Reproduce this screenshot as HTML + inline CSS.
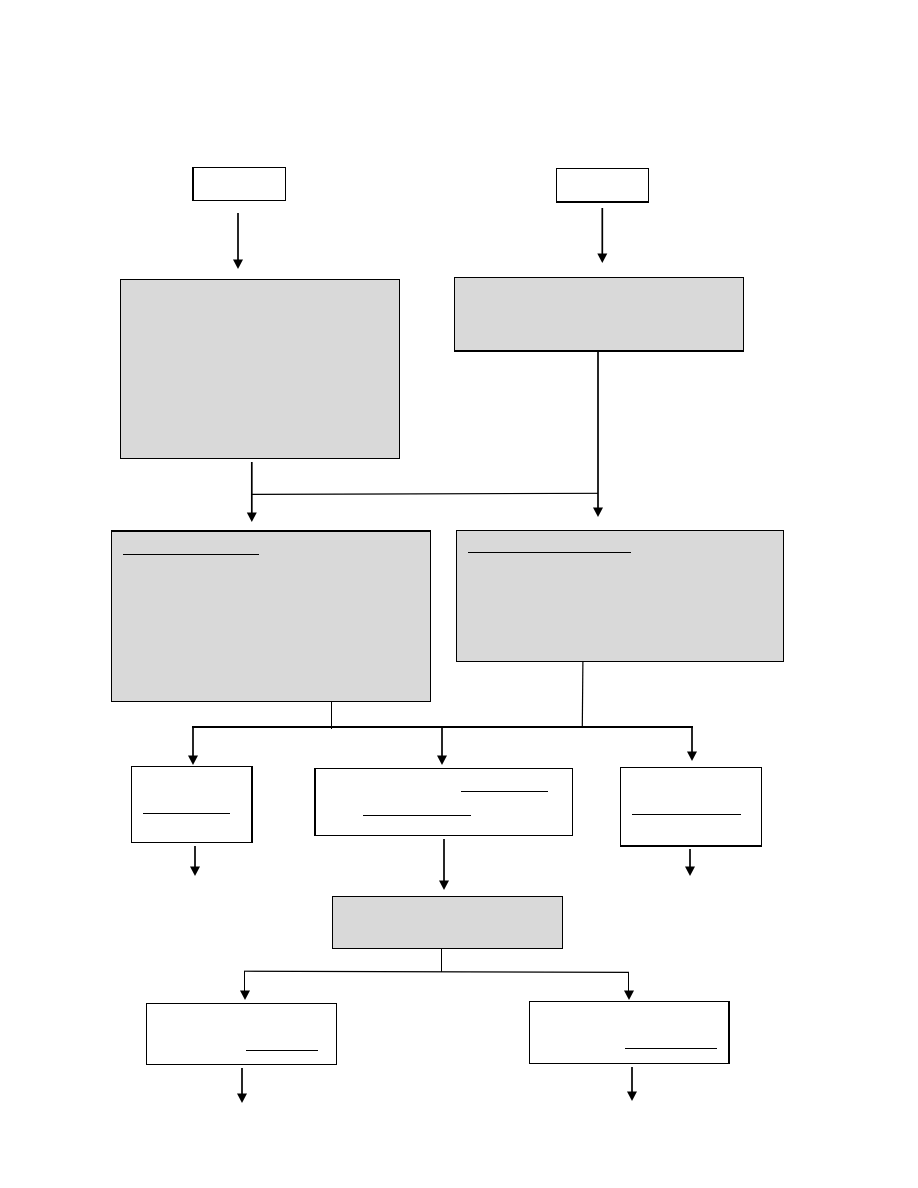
<!DOCTYPE html>
<html>
<head>
<meta charset="utf-8">
<style>
html,body{margin:0;padding:0;background:#fff;width:918px;height:1188px;overflow:hidden}
svg{display:block}
</style>
</head>
<body>
<svg width="918" height="1188" viewBox="0 0 918 1188" xmlns="http://www.w3.org/2000/svg">
<defs>
<polygon id="h" points="-5,-9.5 5,-9.5 0,0" fill="#000"/>
</defs>
<rect width="918" height="1188" fill="#fff"/>
<g stroke="#000" stroke-width="1.2" fill="#fff" shape-rendering="crispEdges">
<rect x="193.5" y="167.5" width="92" height="33"/>
<rect x="556.5" y="168.5" width="92" height="34"/>
<rect x="120.5" y="279.5" width="279" height="179" fill="#d9d9d9"/>
<rect x="454.5" y="277.5" width="289" height="74" fill="#d9d9d9"/>
<rect x="111.5" y="531.5" width="319" height="170" fill="#d9d9d9"/>
<rect x="456.5" y="530.5" width="327" height="131" fill="#d9d9d9"/>
<rect x="131.5" y="766.5" width="121" height="76"/>
<rect x="314.5" y="768.5" width="258" height="67"/>
<rect x="620.5" y="767.5" width="141" height="79"/>
<rect x="332.5" y="896.5" width="230" height="52" fill="#d9d9d9"/>
<rect x="146.5" y="1003.5" width="190" height="61"/>
<rect x="529.5" y="1001.5" width="200" height="62"/>
</g>
<g stroke="#000" stroke-width="2" fill="none" shape-rendering="crispEdges">
<line x1="193" y1="167" x2="193" y2="201"/>
<line x1="454" y1="351" x2="744" y2="351"/>
<line x1="111" y1="531" x2="431" y2="531"/>
<line x1="252" y1="767" x2="252" y2="843"/>
<line x1="315" y1="768" x2="315" y2="836"/>
<line x1="620" y1="846" x2="762" y2="846"/>
<line x1="556" y1="202" x2="649" y2="202"/>
<line x1="729" y1="1001" x2="729" y2="1064"/>
<line x1="192" y1="727" x2="693" y2="727"/>
</g>
<g stroke="#000" stroke-width="1.7" fill="none">
<line x1="238" y1="213" x2="238" y2="262"/>
<line x1="602.3" y1="208" x2="602.3" y2="256"/>
<line x1="598" y1="352" x2="598" y2="510"/>
<line x1="251.8" y1="462" x2="251.8" y2="515"/>
<line x1="193" y1="727" x2="193" y2="758"/>
<line x1="442" y1="727" x2="442" y2="758"/>
<line x1="692" y1="727" x2="692" y2="754"/>
<line x1="195" y1="846" x2="195" y2="869"/>
<line x1="690" y1="849" x2="690" y2="869"/>
<line x1="444" y1="839" x2="444" y2="884"/>
<line x1="242" y1="1068" x2="242" y2="1096"/>
<line x1="632" y1="1067" x2="632" y2="1094"/>
</g>
<g stroke="#000" stroke-width="1.2" fill="none">
<line x1="252" y1="494.4" x2="598" y2="493.3"/>
<line x1="582.9" y1="661" x2="582.3" y2="727"/>
<line x1="244" y1="971.2" x2="629" y2="972.4"/>
</g>
<g stroke="#000" stroke-width="1.2" fill="none" shape-rendering="crispEdges">
<line x1="331.5" y1="701" x2="331.5" y2="729"/>
<line x1="441.5" y1="948" x2="441.5" y2="972"/>
<line x1="244.5" y1="971" x2="244.5" y2="993"/>
<line x1="628.5" y1="972" x2="628.5" y2="993"/>
<line x1="123" y1="554.5" x2="259" y2="554.5"/>
<line x1="468" y1="552.5" x2="631" y2="552.5"/>
<line x1="143" y1="813.5" x2="230" y2="813.5"/>
<line x1="632" y1="814.5" x2="741" y2="814.5"/>
<line x1="363" y1="815.5" x2="471" y2="815.5"/>
<line x1="461" y1="791.5" x2="548" y2="791.5"/>
<line x1="246" y1="1050.5" x2="318" y2="1050.5"/>
<line x1="625" y1="1048.5" x2="717" y2="1048.5"/>
</g>
<use href="#h" x="238" y="269"/>
<use href="#h" x="602.3" y="263"/>
<use href="#h" x="598" y="517"/>
<use href="#h" x="251.8" y="522"/>
<use href="#h" x="193" y="765"/>
<use href="#h" x="442" y="765"/>
<use href="#h" x="692" y="761"/>
<use href="#h" x="195" y="876"/>
<use href="#h" x="690" y="876"/>
<use href="#h" x="444" y="890"/>
<use href="#h" x="245" y="1000"/>
<use href="#h" x="629" y="1000"/>
<use href="#h" x="242" y="1103"/>
<use href="#h" x="632" y="1101"/>
</svg>
</body>
</html>
